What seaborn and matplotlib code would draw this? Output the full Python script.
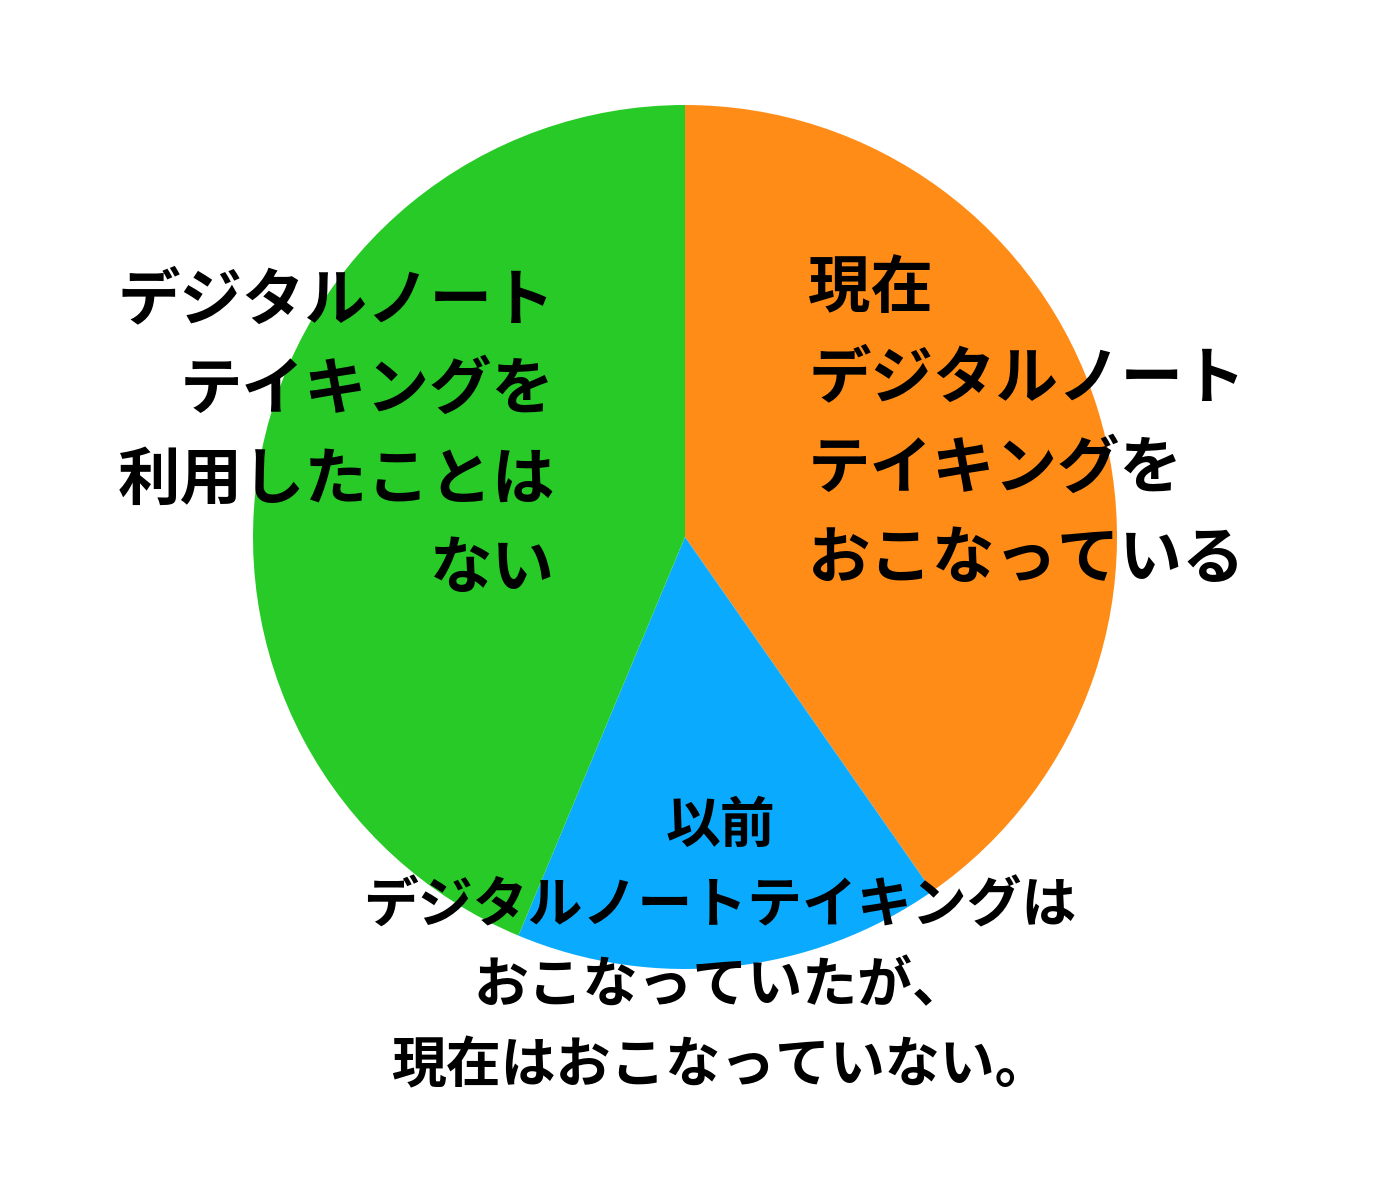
import matplotlib
matplotlib.use("Agg")
import matplotlib.pyplot as plt
import seaborn as sns

# Share of respondents per answer
labels = [
    "現在\nデジタルノート\nテイキングを\nおこなっている",
    "以前\nデジタルノートテイキングは\nおこなっていたが、\n現在はおこなっていない。",
    "デジタルノート\nテイキングを\n利用したことは\nない",
]
values = [40.3, 16.0, 43.7]
colors = ["#FF8C17", "#0AABFF", "#27CA27"]

sns.set_theme(style="white")
plt.rcParams['font.family'] = ['Noto Sans CJK JP', 'DejaVu Sans']

fig = plt.figure(figsize=(14, 12), dpi=100)
ax = fig.add_axes([253 / 1400, 231 / 1200, 864 / 1400, 864 / 1200])

ax.pie(values, colors=colors, startangle=90, counterclock=False,
       radius=1, wedgeprops=dict(linewidth=0))
ax.set_xlim(-1, 1)
ax.set_ylim(-1, 1)
ax.set_aspect('equal')
ax.axis('off')

# label text per slice (positions in pie data units)
ax.text(0.285, 0.262, labels[0], ha='left', va='center', ma='left',
        fontsize=45, fontweight='bold', linespacing=1.55, color='black',
        clip_on=False)
ax.text(0.081, -0.946, labels[1], ha='center', va='center', ma='center',
        fontsize=39.5, fontweight='bold', linespacing=1.52, color='black',
        clip_on=False)
ax.text(-0.301, 0.235, labels[2], ha='right', va='center', ma='right',
        fontsize=45, fontweight='bold', linespacing=1.53, color='black',
        clip_on=False)

fig.savefig("out.png", dpi=100, facecolor="white")
